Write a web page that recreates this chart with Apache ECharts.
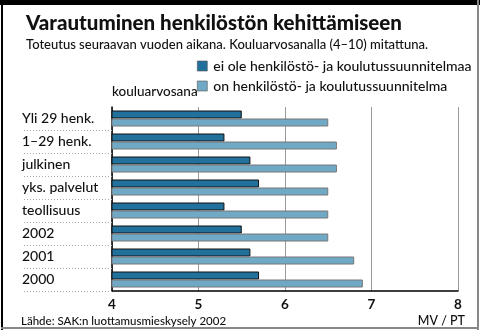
<!DOCTYPE html>
<html>
<head>
<meta charset="utf-8">
<script src="https://cdn.jsdelivr.net/npm/echarts@6/dist/echarts.min.js"></script>
<style>
  html, body { margin: 0; padding: 0; background: #fff; }
  #chart { width: 480px; height: 332px; }
</style>
</head>
<body>
<div id="chart"></div>
<script>
// Categories, top to bottom
const categories = ['Yli 29 henk.', '1–29 henk.', 'julkinen', 'yks. palvelut', 'teollisuus', '2002', '2001', '2000'];
// Average school grade (4–10) by group
const noPlan = [5.5, 5.3, 5.6, 5.7, 5.3, 5.5, 5.6, 5.7];
const withPlan = [6.5, 6.6, 6.6, 6.5, 6.5, 6.5, 6.8, 6.9];
const seriesNames = ['ei ole henkilöstö- ja koulutussuunnitelmaa', 'on henkilöstö- ja koulutussuunnitelma'];
const xTicks = [4, 5, 6, 7, 8];

const FONT = 'Lato, "Open Sans", sans-serif';
const DARK = '#22709c';
const LIGHT = '#70a9c6';

const chart = echarts.init(document.getElementById('chart'), null, { renderer: 'canvas' });

chart.setOption({
  animation: false,
  textStyle: { fontFamily: FONT },
  title: [
    {
      text: 'Varautuminen henkilöstön kehittämiseen',
      left: 21, top: 8,
      textStyle: { fontFamily: FONT, fontSize: 20.5, fontWeight: 900, color: '#111' }
    },
    {
      text: 'Toteutus seuraavan vuoden aikana. Kouluarvosanalla (4–10) mitattuna.',
      left: 21, top: 33,
      textStyle: { fontFamily: FONT, fontSize: 13, fontWeight: 500, color: '#111' }
    }
  ],
  legend: {
    orient: 'vertical',
    left: 197, top: 59, padding: 0,
    itemWidth: 10, itemHeight: 10, itemGap: 6,
    icon: 'rect',
    itemStyle: { borderWidth: 0.6, borderColor: '#555' },
    textStyle: { fontFamily: FONT, fontSize: 14, fontWeight: 500, color: '#111', lineHeight: 10, padding: [0, 0, 0, 1] },
    data: seriesNames
  },
  grid: { left: 112, right: 22, top: 107, bottom: 41, containLabel: false },
  xAxis: {
    type: 'value',
    min: xTicks[0], max: xTicks[xTicks.length - 1], interval: 1,
    axisLine: { show: true, lineStyle: { color: '#000', width: 1.5 } },
    axisTick: { show: false },
    axisLabel: {
      fontFamily: FONT, fontSize: 13.5, fontWeight: 'bold', color: '#111', margin: 7,
      formatter: v => xTicks.includes(v) ? String(v) : ''
    },
    splitLine: { show: true, lineStyle: { color: '#9a9a9a', width: 1 } }
  },
  yAxis: {
    type: 'category',
    data: categories,
    inverse: true,
    name: 'kouluarvosana',
    nameLocation: 'start',
    nameGap: 8,
    nameTextStyle: { fontFamily: FONT, fontSize: 13.5, fontWeight: 500, color: '#111', align: 'left' },
    axisLine: { show: true, lineStyle: { color: '#000', width: 1.5 } },
    axisTick: {
      show: true, inside: false, length: 88,
      interval: (i) => i > 0,
      lineStyle: { color: '#aaa', type: [1, 2], width: 1 }
    },
    axisLabel: {
      fontFamily: FONT, fontSize: 14, fontWeight: 500, color: '#111',
      align: 'left', margin: 90
    }
  },
  series: [
    {
      name: seriesNames[0], type: 'bar', data: noPlan,
      barWidth: 8, barGap: '0%',
      itemStyle: { color: DARK, borderColor: '#111', borderWidth: 1 }
    },
    {
      name: seriesNames[1], type: 'bar', data: withPlan,
      barWidth: 8, barGap: '0%',
      itemStyle: { color: LIGHT, borderColor: '#777', borderWidth: 1 }
    }
  ],
  graphic: [
    // Frame: heavy black band at top, thin edges around
    { type: 'rect', shape: { x: 0, y: 0, width: 480, height: 5 }, style: { fill: '#000' } },
    { type: 'rect', shape: { x: 1, y: 0, width: 2, height: 330 }, style: { fill: '#000' } },
    { type: 'rect', shape: { x: 477, y: 0, width: 2, height: 330 }, style: { fill: '#888' } },
    { type: 'rect', shape: { x: 1, y: 327, width: 478, height: 2 }, style: { fill: '#888' } },
    {
      type: 'text', left: 21, top: 315,
      style: { text: 'Lähde: SAK:n luottamusmieskysely 2002', fontFamily: FONT, fontSize: 11.5, fontWeight: 500, fill: '#111' }
    },
    {
      type: 'text', right: 15, top: 314,
      style: { text: 'MV / PT', fontFamily: FONT, fontSize: 12.5, fontWeight: 500, fill: '#111' }
    }
  ]
});
</script>
</body>
</html>
